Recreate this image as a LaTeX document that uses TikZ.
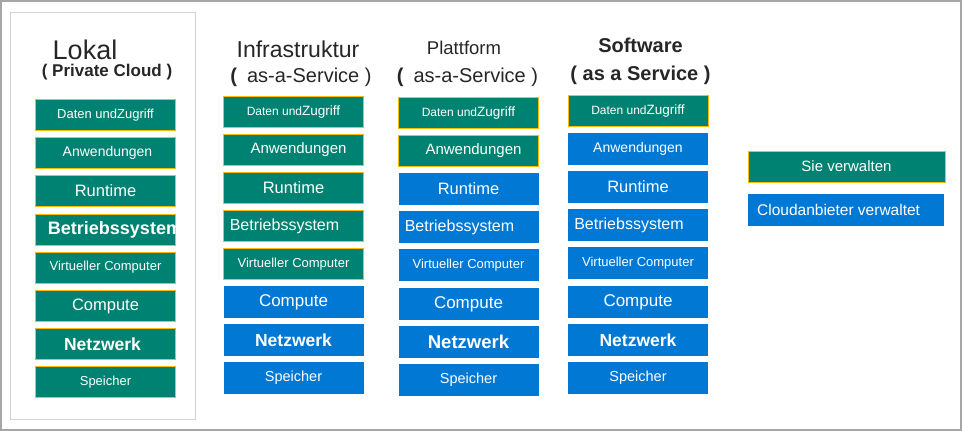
\documentclass[tikz,border=0pt]{standalone}
\usepackage{fontspec}
\setmainfont{Liberation Sans}
\usepackage{tikz}

\definecolor{teal}{HTML}{008272}
\definecolor{msblue}{HTML}{0078D4}
\definecolor{amber}{HTML}{FFB900}
\definecolor{titlegray}{HTML}{262626}
\newcommand{\fsz}[1]{\fontsize{#1}{#1}\selectfont}

\begin{document}
\begin{tikzpicture}[x=1pt,y=-1pt,
	gbox/.style={draw=amber,line width=1pt,fill=teal,text=white,minimum width=140,minimum height=31,inner sep=0},
	bbox/.style={fill=msblue,text=white,minimum width=140,minimum height=32,inner sep=0},
	title/.style={anchor=base,text=titlegray,inner sep=0}]
	\useasboundingbox (0,0) rectangle (962,431);
	\draw[gray!70,line width=1.5] (0.75,0.75) rectangle (961,430);
	\draw[gray!35] (10,12) rectangle (195,419);

	% Lokal
	\node[title,font=\fsz{27}] (t1) at (85,59) {Lokal};
	\node[title,font=\fsz{17}\bfseries] (s1) at (107,76.5) {( Private Cloud )};
	\node[gbox,font=\fsz{13}] (l1) at (105.5,115) {Daten undZugriff};
	\node[gbox,font=\fsz{14}] (l2) at (105.5,153) {\kern4pt Anwendungen};
	\node[gbox,font=\fsz{16.5}] (l3) at (105.5,191) {Runtime};
	\node[gbox] (l4) at (105.5,229.5) {};
	\node[text=white,inner sep=0,font=\fsz{18}\bfseries] (l4t) at (115,229.5) {Betriebssystem};
	\node[gbox,font=\fsz{13}] (l5) at (105.5,267.5) {Virtueller Computer};
	\node[gbox,font=\fsz{16.5}] (l6) at (105.5,306) {Compute};
	\node[gbox,font=\fsz{17.5}\bfseries] (l7) at (105.5,344) {Netzwerk\kern6pt};
	\node[gbox,font=\fsz{13}] (l8) at (105.5,382) {Speicher};

	% Infrastruktur
	\node[title,font=\fsz{23}] (t2) at (298,57) {Infrastruktur};
	\node[title,font=\fsz{20}] (s2) at (301,82) {{\bfseries(}\enspace as-a-Service )};
	\node[gbox] (i1) at (293.5,112) {{\fsz{12}Daten und}{\fsz{13.5}Zugriff}};
	\node[gbox,font=\fsz{15}] (i2) at (293.5,150) {\kern10pt Anwendungen};
	\node[gbox,font=\fsz{16.5}] (i3) at (293.5,188) {Runtime};
	\node[gbox,font=\fsz{16}] (i4) at (293.5,226) {Betriebssystem\kern18pt};
	\node[gbox,font=\fsz{13}] (i5) at (293.5,264) {Virtueller Computer};
	\node[bbox,font=\fsz{17}] (i6) at (293.5,302) {Compute};
	\node[bbox,font=\fsz{17.5}\bfseries] (i7) at (293.5,340) {Netzwerk};
	\node[bbox,font=\fsz{14.5}] (i8) at (293.5,378) {Speicher};

	% Plattform
	\node[title,font=\fsz{18.5}] (t3) at (464,54) {Plattform};
	\node[title,font=\fsz{20}] (s3) at (467.5,82) {{\bfseries(}\enspace as-a-Service )};
	\node[gbox] (p1) at (468.5,113) {{\fsz{12}Daten und}{\fsz{13.5}Zugriff}};
	\node[gbox,font=\fsz{15}] (p2) at (468.5,151) {\kern10pt Anwendungen};
	\node[bbox,font=\fsz{16.5}] (p3) at (468.5,189) {Runtime};
	\node[bbox,font=\fsz{16}] (p4) at (468.5,227) {Betriebssystem\kern18pt};
	\node[bbox,font=\fsz{13}] (p5) at (468.5,265) {Virtueller Computer};
	\node[bbox,font=\fsz{17}] (p6) at (468.5,304) {Compute};
	\node[bbox,font=\fsz{18.5}\bfseries] (p7) at (468.5,342) {Netzwerk};
	\node[bbox,font=\fsz{14.5}] (p8) at (468.5,380) {Speicher};

	% Software
	\node[title,font=\fsz{20}\bfseries] (t4) at (640.5,52) {Software};
	\node[title,font=\fsz{20}\bfseries] (s4) at (640.5,80) {( as a Service )};
	\node[gbox] (w1) at (638,111) {{\fsz{12}Daten und}{\fsz{13.5}Zugriff}};
	\node[bbox,font=\fsz{14}] (w2) at (638,149) {Anwendungen};
	\node[bbox,font=\fsz{16.5}] (w3) at (638,187) {Runtime};
	\node[bbox,font=\fsz{16}] (w4) at (638,225) {Betriebssystem\kern18pt};
	\node[bbox,font=\fsz{13}] (w5) at (638,263) {Virtueller Computer};
	\node[bbox,font=\fsz{17}] (w6) at (638,302) {Compute};
	\node[bbox,font=\fsz{17.5}\bfseries] (w7) at (638,340) {Netzwerk};
	\node[bbox,font=\fsz{14.5}] (w8) at (638,378) {Speicher};

	% Legende
	\node[gbox,minimum width=197,font=\fsz{15}] (sv) at (846.5,166.5) {Sie verwalten};
	\node[bbox,minimum width=196] (cv) at (846,210) {};
	\node[anchor=west,text=white,inner sep=0,font=\fsz{15.5}] (cvt) at (757,210) {Cloudanbieter verwaltet};
\end{tikzpicture}
\end{document}
